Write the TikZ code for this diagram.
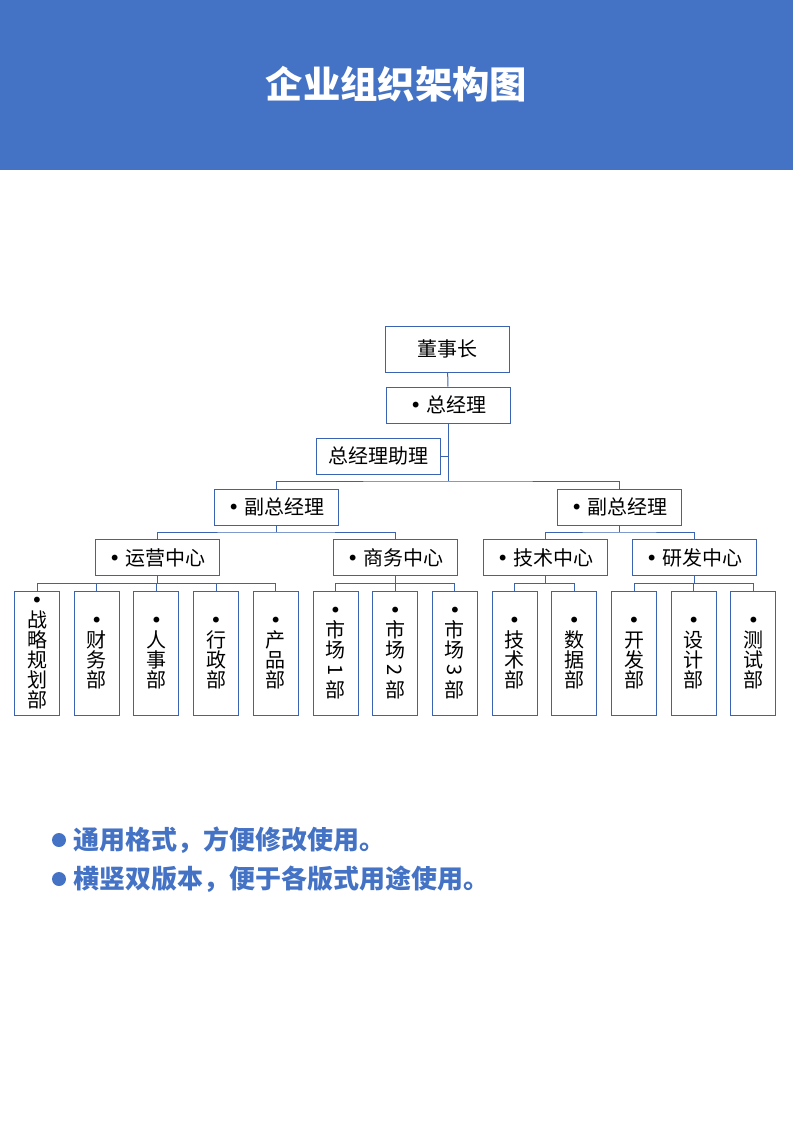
\documentclass[tikz,border=0pt]{standalone}
\usepackage{fontspec}
\setmainfont{Noto Sans CJK SC}
\newfontfamily\bulfont{DejaVu Sans}
\newcommand{\bul}{{\bulfont •}}
\newcommand{\rotd}[1]{\rotatebox[origin=c]{-90}{#1}}
\definecolor{hdblue}{RGB}{68,114,196}
\definecolor{lnblue}{RGB}{58,100,178}

\begin{document}
\begin{tikzpicture}[x=0.75pt,y=-0.75pt,node distance=44.775pt,
    box/.style={draw=lnblue,line width=0.75pt,minimum width=93pt,minimum height=27pt,inner sep=0pt,font=\fontsize{15}{15}\selectfont},
    vbox/.style={draw=lnblue,line width=0.75pt,minimum width=33.75pt,minimum height=93pt,inner sep=0pt,align=center,font=\fontsize{15}{15}\selectfont},
    link/.style={draw=lnblue,line width=0.75pt},
    note/.style={anchor=west,inner sep=0pt,text=hdblue,font=\fontsize{19.5}{19.5}\selectfont\bfseries}]
                  \useasboundingbox (0,0) rectangle (793,1122);
                  \fill[hdblue] (0,0) rectangle (793,170);
                  \node[text=white,font=\fontsize{28}{28}\selectfont\bfseries] (title) at (396.5,84) {企业组织架构图};

                  \node[box,minimum height=34.5pt] (1) at (447.5,349) {董事长};
                  \node[box]  (2) at (448,405)    {\bul\ 总经理};
                  \node[box]  (3) at (378.5,456)  {总经理助理};
                  \node[box]  (4) at (276,507)    {\bul\ 副总经理};
                  \node[box]  (5) at (619,507)    {\bul\ 副总经理};
                  \node[box]  (6) at (157,557.5)  {\bul\ 运营中心};
                  \node[box]  (7) at (395,557.5)  {\bul\ 商务中心};
                  \node[box]  (8) at (545,557.5)  {\bul\ 技术中心};
                  \node[box]  (9) at (694,557.5)  {\bul\ 研发中心};

                  \node[vbox] (10) at (37,653)    {\bul\\战\\略\\规\\划\\部};
                  \node[vbox] (11) [right of=10]  {\bul\\财\\务\\部};
                  \node[vbox] (12) [right of=11]  {\bul\\人\\事\\部};
                  \node[vbox] (13) [right of=12]  {\bul\\行\\政\\部};
                  \node[vbox] (14) [right of=13]  {\bul\\产\\品\\部};
                  \node[vbox] (15) [right of=14]  {\bul\\市\\场\\\rotd{1}\\部};
                  \node[vbox] (16) [right of=15]  {\bul\\市\\场\\\rotd{2}\\部};
                  \node[vbox] (17) [right of=16]  {\bul\\市\\场\\\rotd{3}\\部};
                  \node[vbox] (18) [right of=17]  {\bul\\技\\术\\部};
                  \node[vbox] (19) [right of=18]  {\bul\\数\\据\\部};
                  \node[vbox] (20) [right of=19]  {\bul\\开\\发\\部};
                  \node[vbox] (21) [right of=20]  {\bul\\设\\计\\部};
                  \node[vbox] (22) [right of=21]  {\bul\\测\\试\\部};

                  \coordinate (j1) at (448,481);
                  \coordinate (j2) at (276,532);
                  \coordinate (j3) at (619,532);
                  \coordinate (j4) at (157,583);
                  \coordinate (j5) at (395,583);
                  \coordinate (j6) at (545,583);
                  \coordinate (j7) at (694,583);

                      \draw[link] (1) -- (2);
                      \draw[link] (2) -- (j1);
                      \draw[link] (3.east) -- (3.east -| j1);
                      \draw[link] (4.north) |- (j1) -| (5.north);
                      \draw[link] (4) -- (j2);
                      \draw[link] (6.north) |- (j2) -| (7.north);
                      \draw[link] (5) -- (j3);
                      \draw[link] (8.north) |- (j3) -| (9.north);
                      \draw[link] (6) -- (j4);
                      \draw[link] (10.north) |- (j4) -| (14.north);
                      \draw[link] (7) -- (j5);
                      \draw[link] (15.north) |- (j5) -| (17.north);
                      \draw[link] (8) -- (j6);
                      \draw[link] (18.north) |- (j6) -| (19.north);
                      \draw[link] (9) -- (j7);
                      \draw[link] (20.north) |- (j7) -| (22.north);
                      \foreach \n in {11,12,13,16,21}
                          \draw[link] (\n.north) -- (\n.north |- j4);

                  \fill[hdblue] (59,840) circle (5.25pt);
                  \fill[hdblue] (59,879) circle (5.25pt);
                  \node[note] (n1) at (73,840) {通用格式，方便修改使用。};
                  \node[note] (n2) at (73,879) {横竖双版本，便于各版式用途使用。};
        \end{tikzpicture}
\end{document}
